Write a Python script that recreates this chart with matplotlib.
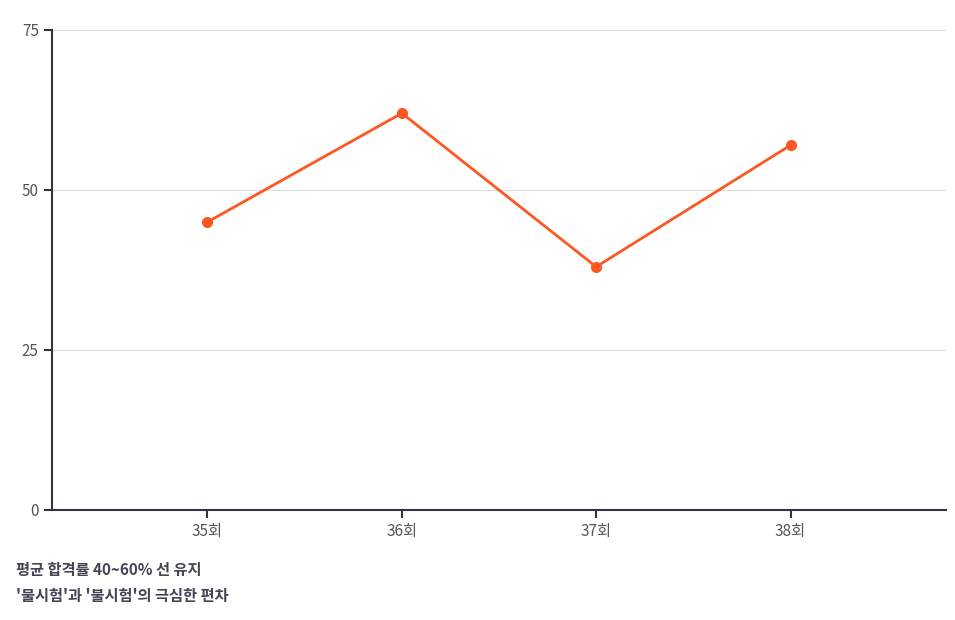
import matplotlib
matplotlib.use("Agg")
import matplotlib.pyplot as plt

plt.rcParams['font.family'] = ['Noto Sans CJK KR', 'DejaVu Sans']

categories = ['35회', '36회', '37회', '38회']
values = [45, 62, 38, 57]
yticks = [0, 25, 50, 75]
caption = ["평균 합격률 40~60% 선 유지", "'물시험'과 '불시험'의 극심한 편차"]

fig = plt.figure(figsize=(9.55, 6.2), dpi=100)
ax = fig.add_axes([52/955, 1-510/620, 894/955, 480/620])
x = list(range(len(categories)))
ax.plot(x, values, color='#FF5722', lw=2, marker='o', ms=7, zorder=3)
ax.set_xlim(-0.8, 3.8)
ax.set_ylim(0, 75)
ax.set_xticks(x)
ax.set_xticklabels(categories)
ax.set_yticks(yticks)
ax.grid(axis='y', color='#dddddd', lw=0.8)
ax.set_axisbelow(True)
for s in ['top', 'right']:
    ax.spines[s].set_visible(False)
for s in ['left', 'bottom']:
    ax.spines[s].set_color('#333344')
    ax.spines[s].set_linewidth(1.5)
ax.tick_params(axis='both', colors='#333344', labelcolor='#555555', labelsize=11, length=6, width=1.5)
fig.text(16/955, 1-570/620, caption[0], fontsize=11, fontweight='bold', color='#444455', va='center')
fig.text(16/955, 1-596/620, caption[1], fontsize=11, fontweight='bold', color='#444455', va='center')
fig.savefig('out.png', dpi=100)
